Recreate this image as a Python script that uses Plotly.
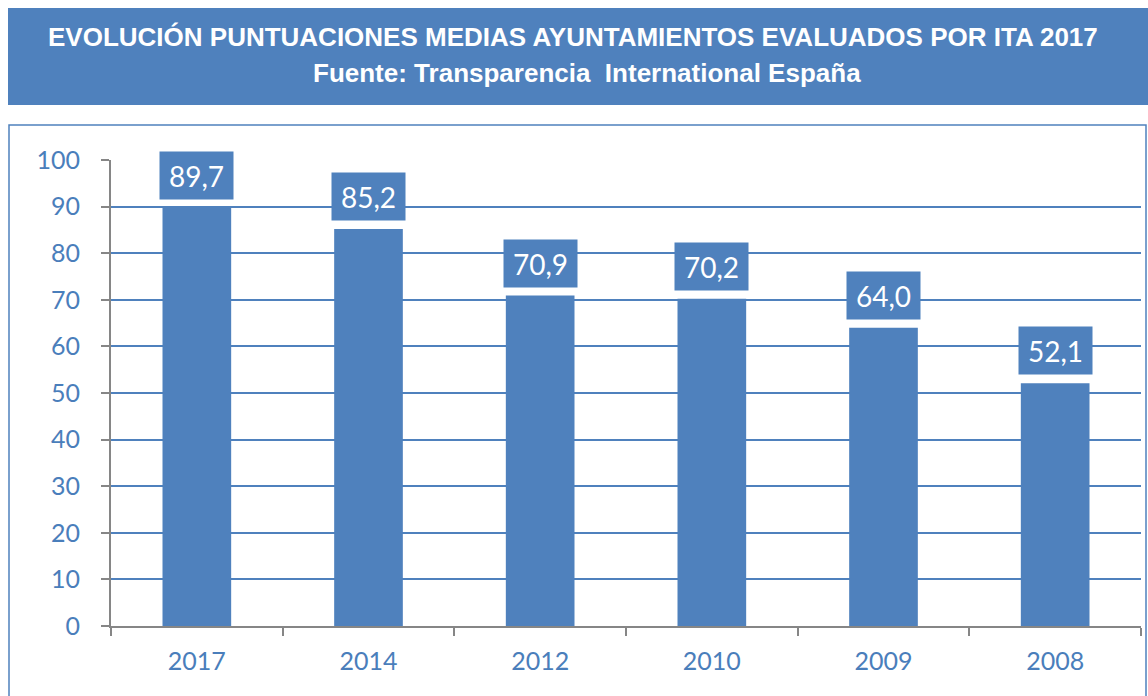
import plotly.graph_objects as go

years = ["2017", "2014", "2012", "2010", "2009", "2008"]
scores = [89.7, 85.2, 70.9, 70.2, 64.0, 52.1]
y_ticks = [0, 10, 20, 30, 40, 50, 60, 70, 80, 90, 100]

BLUE = "#4F81BD"
TXT = "#4A7EBB"

fig = go.Figure()
fig.add_trace(go.Bar(x=years, y=scores, marker=dict(color=BLUE, line=dict(width=0)),
                     width=0.4, hoverinfo="x+y"))

for i, v in enumerate(scores):
    fig.add_annotation(x=i, y=v, yref="y", xref="x", text=f"{v:.1f}".replace(".", ","),
                       showarrow=False, yanchor="bottom", yshift=8,
                       font=dict(family="Lato", size=28, color="white"),
                       bgcolor=BLUE, borderpad=5, width=63, height=37)

fig.add_shape(type="rect", xref="paper", yref="paper", x0=-103/1030, x1=1.0 + 7/1030,
              y0=(626 - 105) / 466, y1=(626 - 8) / 466,
              fillcolor=BLUE, line=dict(width=0), layer="below")
fig.add_shape(type="rect", xref="paper", yref="paper", x0=-102/1030, x1=1.0 + 5/1030,
              y0=(626 - 700) / 466, y1=(626 - 125) / 466,
              fillcolor="rgba(0,0,0,0)", line=dict(width=1.5, color=BLUE), layer="below")

fig.add_annotation(xref="paper", yref="paper", x=(573 - 111) / 1030, y=(626 - 37) / 466,
                   xanchor="center", yanchor="middle",
                   text="<b>EVOLUCIÓN PUNTUACIONES MEDIAS AYUNTAMIENTOS EVALUADOS POR ITA 2017</b>",
                   showarrow=False, font=dict(family="Liberation Sans, Arial", size=26, color="white"))
fig.add_annotation(xref="paper", yref="paper", x=(587 - 111) / 1030, y=(626 - 73) / 466,
                   xanchor="center", yanchor="middle",
                   text="<b>Fuente: Transparencia  International España</b>",
                   showarrow=False, font=dict(family="Liberation Sans, Arial", size=26, color="white"))

fig.update_layout(
    width=1148, height=696,
    margin=dict(l=111, r=7, t=160, b=70),
    paper_bgcolor="white", plot_bgcolor="white",
    showlegend=False,
    bargap=0.6,
    xaxis=dict(type="category", range=[-0.5, 5.5], showline=True, linecolor="#868686", linewidth=2,
               ticks="outside", tickson="boundaries", ticklen=8, tickcolor="#868686", tickwidth=2,
               tickfont=dict(family="Lato", size=25, color=TXT), showgrid=False, tickangle=0,
               ticklabelstandoff=12, automargin=False, mirror=False, fixedrange=True),
    yaxis=dict(range=[0, 100], tickvals=y_ticks, showline=True, linecolor="#868686", linewidth=2,
               ticks="outside", ticklen=8, tickcolor="#868686", tickwidth=2,
               tickfont=dict(family="Lato", size=25, color=TXT), automargin=False,
               showgrid=True, gridcolor=BLUE, gridwidth=2, zeroline=False,
               ticklabelstandoff=16, fixedrange=True),
)

fig.write_html("out.html", config={"displayModeBar": False},
               post_script="document.body.style.margin='0';document.body.style.overflow='hidden';")
